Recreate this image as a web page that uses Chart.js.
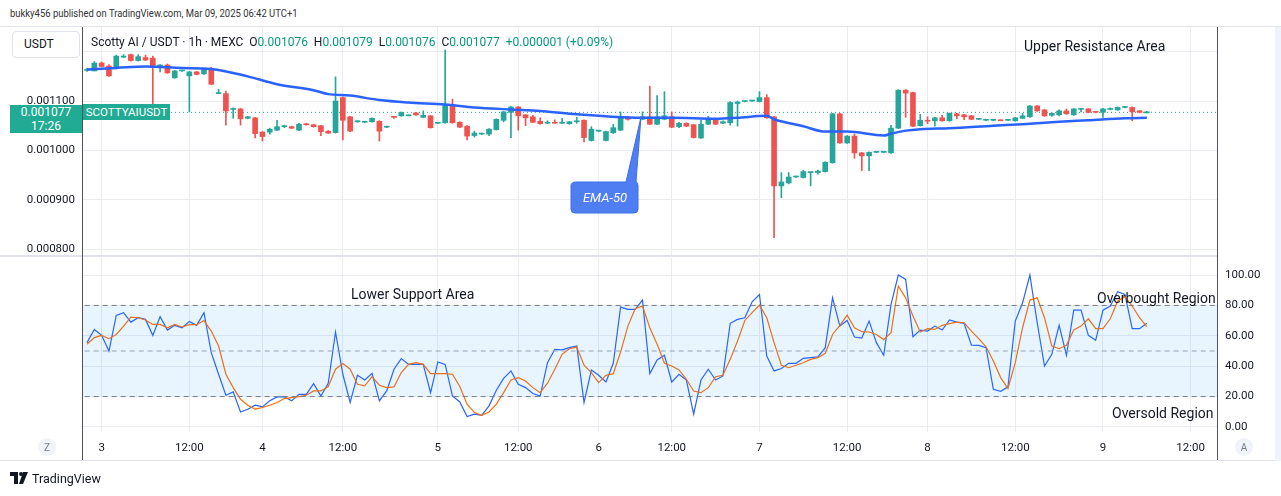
<!DOCTYPE html>
<html>
<head>
<meta charset="utf-8">
<script src="https://cdn.jsdelivr.net/npm/chart.js@4.4.1/dist/chart.umd.min.js"></script>
<style>
  body { margin: 0; background: #fff; font-family: Roboto, "Noto Sans", sans-serif; color: #131722; }
  #wrap { position: relative; width: 1281px; height: 496px; overflow: hidden; background: #fff; }
  .abs { position: absolute; white-space: nowrap; }
  canvas { position: absolute; left: 0; }
  .up { color: #089981; }
  .note { font-size: 14px; color: #131722; }
</style>
</head>
<body>
<div id="wrap">
  <div class="abs" style="left:10px;top:7px;font-size:11px;color:#333;transform:scaleX(0.86);transform-origin:0 0;">bukky456 published on TradingView.com, Mar 09, 2025 06:42 UTC+1</div>
  <div class="abs" style="left:0;top:26px;width:1281px;height:1px;background:#e0e3eb;"></div>

  <canvas id="price" width="1281" height="228" style="top:27px;width:1281px;height:228px;"></canvas>
  <canvas id="osc" width="1281" height="204" style="top:256px;width:1281px;height:204px;"></canvas>

  <!-- pane frame -->
  <div class="abs" style="left:0;top:255px;width:1217px;height:2px;background:#e0e3eb;"></div>
  <div class="abs" style="left:82px;top:27px;width:1px;height:434px;background:#50535e;"></div>
  <div class="abs" style="left:1217px;top:27px;width:1px;height:434px;background:#50535e;"></div>
  <div class="abs" style="left:0;top:460px;width:1281px;height:1px;background:#e0e3eb;"></div>
  <div class="abs" style="left:1275px;top:27px;width:6px;height:434px;background:#f0f3fa;"></div>

  <!-- header -->
  <div class="abs" style="left:12px;top:31px;border:1px solid #e0e3eb;border-radius:4px;background:#fff;font-size:12px;line-height:25px;padding-left:11px;box-sizing:border-box;width:68px;height:27px;">USDT</div>
  <div class="abs" style="left:91px;top:35px;font-size:12px;color:#131722;">Scotty AI / USDT · 1h · MEXC&nbsp; O<span class="up">0.001076</span>&nbsp; H<span class="up">0.001079</span>&nbsp; L<span class="up">0.001076</span>&nbsp; C<span class="up">0.001077</span>&nbsp; <span class="up">+0.000001 (+0.09%)</span></div>

  <!-- last price tags -->
  <div class="abs" style="left:10px;top:105px;width:72px;height:28px;background:#22ab94;color:#fff;font-size:12px;text-align:center;line-height:14px;">0.001077<br>17:26</div>
  <div class="abs" style="left:83px;top:104px;width:87px;height:16px;background:#22ab94;color:#fff;font-size:11.5px;line-height:16px;text-align:center;">SCOTTYAIUSDT</div>

  <!-- annotations -->
  <div class="abs note" style="left:1024px;top:38px;">Upper Resistance Area</div>
  <div class="abs note" style="left:351px;top:286px;">Lower Support Area</div>
  <div class="abs note" style="left:1097px;top:290px;">Overbought Region</div>
  <div class="abs note" style="left:1112px;top:405px;">Oversold Region</div>

  <svg class="abs" style="left:0;top:0;" width="1281" height="496">
    <path d="M576 182 H626 L641 117 L636 182 Q638 182 638 186 V209 Q638 213 634 213 H575 Q571 213 571 209 V186 Q571 182 576 182 Z" fill="#4f7ef3" stroke="#3e6ee8" stroke-width="1"/>
    <text x="605" y="202" text-anchor="middle" font-family="Roboto, sans-serif" font-size="13" font-style="italic" fill="#fff">EMA-50</text>
    <circle cx="47" cy="447" r="9" fill="#f0f3fa"/>
    <text x="47" y="451" text-anchor="middle" font-family="Roboto, sans-serif" font-size="10" fill="#787b86">Z</text>
    <circle cx="1244" cy="447" r="9" fill="#f0f3fa"/>
    <text x="1244" y="451" text-anchor="middle" font-family="Roboto, sans-serif" font-size="10" fill="#787b86">A</text>
    <path d="M10 472 H18 V484 H14 V476 H10 Z" fill="#131722"/>
    <circle cx="21" cy="474" r="2" fill="#131722"/>
    <path d="M23 472 H28 L23 484 H19 Z" fill="#131722"/>
    <text x="32" y="483" font-family="Roboto, sans-serif" font-size="12.5" fill="#131722">TradingView</text>
  </svg>
</div>

<script>
// candles, price in millionths of USDT (1100 = 0.001100)
const opens = [1162,1161,1177,1171,1166,1189,1194,1182,1188,1187,
  1168,1173,1147,1161,1151,1159,1155,1166,1115,1115,
  1083,1084,1065,1066,1037,1037,1041,1048,1048,1041,
  1053,1052,1050,1039,1036,1107,1068,1058,1057,1058,
  1059,1047,1068,1070,1070,1076,1067,1070,1055,1056,
  1093,1057,1049,1030,1033,1033,1042,1061,1077,1088,
  1072,1068,1059,1055,1056,1055,1054,1058,1061,1020,
  1039,1020,1036,1041,1066,1065,1063,1068,1053,1063,
  1068,1048,1055,1052,1025,1053,1063,1055,1056,1095,
  1099,1100,1099,1107,1068,928,934,946,945,955,
  955,957,975,1074,1015,1029,995,989,996,996,
  995,1045,1122,1117,1050,1060,1060,1066,1060,1074,
  1072,1070,1063,1061,1061,1061,1061,1060,1065,1068,
  1090,1082,1071,1072,1080,1072,1083,1084,1078,1077,
  1083,1082,1087,1087,1080,1076];
const highs = [1166,1180,1179,1174,1193,1194,1195,1194,1193,1191,
  1174,1175,1162,1162,1160,1160,1165,1168,1124,1120,
  1086,1085,1069,1067,1038,1045,1061,1051,1049,1055,
  1055,1053,1051,1040,1149,1108,1069,1060,1059,1066,
  1060,1049,1069,1078,1072,1077,1080,1071,1056,1203,
  1104,1058,1050,1039,1035,1044,1064,1079,1089,1089,
  1073,1071,1066,1060,1062,1065,1059,1067,1062,1048,
  1040,1039,1053,1078,1069,1066,1078,1130,1111,1119,
  1078,1057,1056,1053,1061,1069,1064,1060,1099,1100,
  1100,1101,1119,1113,1069,955,955,948,960,956,
  960,977,1075,1075,1030,1033,996,997,997,997,
  1051,1123,1123,1118,1073,1068,1067,1071,1076,1075,
  1073,1071,1064,1062,1062,1062,1062,1067,1075,1091,
  1091,1083,1076,1082,1084,1085,1084,1085,1078,1085,
  1086,1088,1088,1088,1081,1079];
const lows = [1160,1161,1169,1150,1165,1188,1181,1181,1182,1078,
  1159,1156,1146,1160,1078,1153,1154,1133,1115,1051,
  1065,1051,1064,1025,1019,1033,1040,1046,1044,1040,
  1051,1047,1030,1034,1035,1021,1038,1057,1056,1057,
  1019,1046,1065,1069,1070,1071,1066,1045,1054,1055,
  1055,1046,1021,1027,1032,1030,1041,1058,1026,1041,
  1050,1056,1053,1054,1055,1054,1053,1055,1017,1019,
  1038,1019,1034,1040,1061,1064,1062,1052,1052,1062,
  1046,1046,1048,1025,1024,1052,1052,1054,1051,1049,
  1098,1099,1098,1065,823,904,932,945,944,928,
  952,956,974,1014,1014,984,959,959,995,995,
  994,1044,1067,1048,1049,1054,1049,1059,1059,1064,
  1062,1062,1062,1060,1060,1060,1060,1059,1064,1067,
  1079,1069,1069,1070,1073,1071,1078,1076,1076,1067,
  1082,1081,1086,1060,1076,1076];
const closes = [1164,1177,1170,1151,1191,1191,1182,1190,1183,1168,
  1173,1157,1161,1161,1159,1154,1164,1134,1116,1080,
  1085,1064,1068,1034,1028,1043,1048,1049,1045,1053,
  1052,1048,1038,1035,1100,1061,1039,1059,1058,1065,
  1039,1048,1067,1077,1071,1072,1071,1046,1055,1093,
  1056,1047,1029,1035,1034,1043,1063,1078,1088,1070,
  1066,1057,1054,1056,1055,1056,1058,1059,1026,1043,
  1040,1038,1046,1065,1063,1066,1068,1053,1068,1070,
  1047,1055,1049,1026,1053,1063,1053,1058,1097,1098,
  1099,1100,1107,1066,928,936,946,946,957,955,
  958,976,1074,1015,1029,995,989,996,996,996,
  1045,1122,1116,1049,1061,1059,1066,1060,1075,1070,
  1068,1063,1063,1061,1061,1060,1061,1066,1070,1090,
  1080,1070,1075,1080,1074,1084,1083,1077,1077,1084,
  1083,1087,1087,1078,1077,1077];

// EMA-50 at a few candles
const emaIdx = [0,4,8,13,17,22,26,31,33,36,40,44,49,53,58,62,67,71,76,80,86,89,93,94,98,101,104,109,110,112,114,118,124,128,133,137,142,145];
const emaVal = [1164,1167,1170,1167,1165,1150,1134,1122,1114,1111,1102,1097,1093,1087,1083,1080,1073,1069,1066,1066,1064,1066,1070,1063,1049,1038,1038,1030,1034,1040,1043,1045,1050,1053,1058,1061,1065,1066];

// stochastic RSI %K and %D
const stochK = [55.5,64.2,60.3,50.0,73.4,75.2,69.0,71.9,70.8,60.3,
  72.6,63.8,66.9,65.3,69.5,66.9,75.2,48.9,34.7,20.9,
  23.1,9.9,11.7,14.3,13.2,17.2,19.8,19.8,17.2,21.5,
  21.5,28.5,20.4,28.8,62.5,34.7,16.1,34.0,30.9,35.3,
  17.2,23.7,38.0,45.0,41.2,41.2,41.2,22.6,42.8,41.2,
  20.4,16.5,6.9,8.4,7.7,13.9,24.2,32.0,36.9,28.1,
  25.9,22.0,20.4,42.3,51.1,50.7,52.2,53.3,16.1,37.5,
  34.0,29.6,41.9,78.9,77.4,77.4,83.5,35.1,44.1,47.2,
  29.6,34.7,30.9,8.4,30.9,38.0,30.9,33.6,68.2,70.8,
  71.9,82.4,87.2,46.7,36.9,38.5,41.9,41.9,45.2,45.6,
  46.1,52.2,85.0,66.4,70.1,59.2,58.5,69.7,55.5,47.2,
  80.7,100,97.1,59.4,63.8,63.1,66.4,63.8,70.4,69.0,
  68.2,53.9,53.7,52.2,24.8,23.5,26.4,69.7,81.7,100,
  68.6,40.1,47.8,66.9,47.2,76.9,76.9,60.3,57.0,76.9,
  79.6,89.0,87.2,64.7,64.7,68.2];
const stochD = [54.4,58.8,60.3,58.1,60.9,66.4,72.3,71.9,70.4,67.5,
  67.5,65.3,67.5,65.8,67.3,67.3,70.1,63.1,53.3,34.7,
  25.9,18.2,14.3,11.7,12.8,14.3,16.1,18.7,19.3,20.0,
  20.9,23.7,23.7,26.6,38.0,41.7,38.0,28.1,27.0,33.1,
  27.5,25.9,26.4,35.8,41.2,42.3,41.2,35.1,35.1,35.1,
  34.7,26.6,15.0,9.5,7.7,9.9,15.0,22.6,30.9,32.5,
  30.3,25.9,22.6,28.8,38.0,47.8,51.5,52.6,40.6,35.8,
  29.2,34.0,35.1,49.3,66.4,77.8,79.6,65.3,54.4,41.9,
  40.1,37.5,31.4,23.7,22.6,25.9,33.1,34.0,44.5,56.6,
  70.1,75.2,80.2,71.9,55.5,40.6,39.0,40.6,42.3,44.5,
  45.6,48.5,60.9,66.9,73.6,65.3,62.7,62.5,60.9,57.5,
  62.0,92.7,85.0,73.0,62.5,64.7,64.2,66.9,68.0,69.0,
  68.6,63.1,58.1,52.8,43.4,32.5,25.3,42.3,65.3,83.5,
  85.0,71.9,53.3,51.5,53.7,63.8,66.4,71.2,64.7,64.7,
  71.2,82.8,85.7,79.6,71.9,66.0];

// time axis: candle slot of each label
const timeIdx = [2,14,24,35,48,59,70,80,92,104,115,127,139,151];
const timeLabels = ['3','12:00','4','12:00','5','12:00','6','12:00','7','12:00','8','12:00','9','12:00'];
const priceTicks = [800,900,1000,1100,1200];
const oscTicks = [0,20,40,60,80,100];
const oscLevels = [80,50,20];

const GREEN = '#26a69a';
const RED = '#ef5350';
const GRID = '#e9edf2';
const X_MIN = -0.55, X_MAX = 154.6;

Chart.defaults.font.family = 'Roboto, "Noto Sans", sans-serif';
Chart.defaults.font.size = 12;
Chart.defaults.color = '#131722';

const col = (i) => closes[i] >= opens[i] ? GREEN : RED;
const wicks = lows.map((l, i) => ({ x: i, y: [l, highs[i]] }));
const bodies = opens.map((o, i) => ({ x: i, y: [o, closes[i]] }));
const ema = emaIdx.map((x, i) => ({ x: x, y: emaVal[i] }));
const last = closes[closes.length - 1];

// no extra room for the end labels, the panes touch their frames
function noPad(s) {
  s.paddingTop = 0; s.paddingBottom = 0; s.paddingLeft = 0; s.paddingRight = 0;
}

function xScale(showLabels) {
  return {
    type: 'linear',
    min: X_MIN,
    max: X_MAX,
    offset: false,
    afterBuildTicks: (s) => { s.ticks = timeIdx.map(v => ({ value: v })); },
    afterFit: (s) => { s.height = showLabels ? 28 : 0; noPad(s); },
    grid: { color: GRID, drawTicks: false, offset: false },
    border: { display: false },
    ticks: {
      display: showLabels,
      padding: 9,
      color: '#131722',
      font: { size: 11.5 },
      maxRotation: 0,
      autoSkip: false,
      callback: (v, i) => timeLabels[i]
    }
  };
}

new Chart(document.getElementById('price'), {
  type: 'bar',
  data: {
    datasets: [
      { type: 'line', data: [{ x: X_MIN, y: last }, { x: X_MAX, y: last }], borderColor: '#22ab94',
        borderWidth: 1, borderDash: [1, 3], pointRadius: 0, order: 4 },
      { data: wicks, backgroundColor: wicks.map((d, i) => col(i)), barThickness: 1, grouped: false, order: 3 },
      { data: bodies, backgroundColor: bodies.map((d, i) => col(i)), barThickness: 5, minBarLength: 1, grouped: false, order: 2 },
      { type: 'line', data: ema, borderColor: '#2962ff', borderWidth: 2.5, pointRadius: 0,
        cubicInterpolationMode: 'monotone', order: 1 }
    ]
  },
  options: {
    responsive: false,
    animation: false,
    layout: { autoPadding: false, padding: { left: 0, right: 64, top: 0, bottom: 0 } },
    plugins: { legend: { display: false }, tooltip: { enabled: false } },
    scales: {
      x: xScale(false),
      y: {
        position: 'left',
        min: 788,
        max: 1250,
        afterBuildTicks: (s) => { s.ticks = priceTicks.map(v => ({ value: v })); },
        afterFit: (s) => { s.width = 83; noPad(s); },
        grid: { color: GRID, drawTicks: false },
        border: { display: false },
        ticks: { padding: 8, font: { size: 11.5 }, callback: (v) => v >= 1200 ? '' : (v / 1e6).toFixed(6) }
      }
    }
  }
});

const lvl = (v) => [{ x: X_MIN - 1, y: v }, { x: X_MAX + 1, y: v }];

new Chart(document.getElementById('osc'), {
  type: 'line',
  data: {
    datasets: [
      { data: lvl(oscLevels[0]), borderColor: '#787b86', borderWidth: 1, borderDash: [5, 4], pointRadius: 0,
        fill: '+2', backgroundColor: 'rgba(33,150,243,0.1)' },
      { data: lvl(oscLevels[1]), borderColor: '#a3a6af', borderWidth: 1, borderDash: [5, 4], pointRadius: 0 },
      { data: lvl(oscLevels[2]), borderColor: '#787b86', borderWidth: 1, borderDash: [5, 4], pointRadius: 0 },
      { data: stochD.map((v, i) => ({ x: i, y: v })), borderColor: '#ff6d00', borderWidth: 1.2, pointRadius: 0 },
      { data: stochK.map((v, i) => ({ x: i, y: v })), borderColor: '#2962ff', borderWidth: 1.2, pointRadius: 0 }
    ]
  },
  options: {
    responsive: false,
    animation: false,
    layout: { autoPadding: false, padding: { left: 83, right: 0, top: 2, bottom: 0 } },
    plugins: { legend: { display: false }, tooltip: { enabled: false } },
    scales: {
      x: xScale(true),
      y: {
        position: 'right',
        min: -3.3,
        max: 111.2,
        afterBuildTicks: (s) => { s.ticks = oscTicks.map(v => ({ value: v })); },
        afterFit: (s) => { s.width = 64; noPad(s); },
        grid: { color: GRID, drawTicks: false },
        border: { display: false },
        ticks: { padding: 8, font: { size: 11.5 }, callback: (v) => v.toFixed(2) }
      }
    }
  }
});
</script>
</body>
</html>
